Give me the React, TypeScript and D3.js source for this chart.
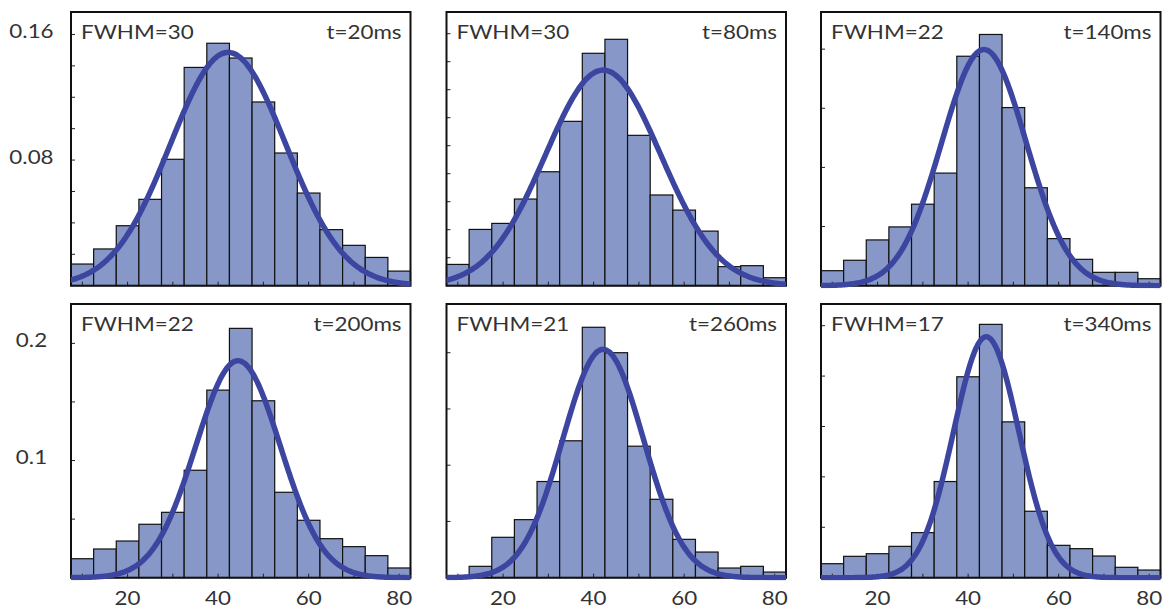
import React from "react";
import * as d3 from "d3";

// bin centres (bin width 5)
const binCenters = [10, 15, 20, 25, 30, 35, 40, 45, 50, 55, 60, 65, 70, 75, 80];

// relative frequencies per panel
const freq20 = [0.0138, 0.0234, 0.0382, 0.055, 0.0805, 0.139, 0.1544, 0.145, 0.117, 0.0845, 0.059, 0.0357, 0.0257, 0.018, 0.0093];
const freq80 = [0.0152, 0.0402, 0.0445, 0.0619, 0.0814, 0.1174, 0.166, 0.176, 0.1074, 0.0648, 0.054, 0.039, 0.0136, 0.0143, 0.0057];
const freq140 = [0.0127, 0.0215, 0.0387, 0.0497, 0.0689, 0.0952, 0.194, 0.2124, 0.1506, 0.0828, 0.0398, 0.0223, 0.0113, 0.0113, 0.0059];
const freq200 = [0.0162, 0.0245, 0.0313, 0.0456, 0.0558, 0.0917, 0.1601, 0.2128, 0.151, 0.0729, 0.049, 0.0333, 0.0265, 0.0188, 0.0083];
const freq260 = [0, 0.0101, 0.0359, 0.0516, 0.0855, 0.1217, 0.2226, 0.2, 0.1169, 0.0697, 0.0341, 0.0228, 0.0086, 0.0101, 0.005];
const freq340 = [0.0139, 0.0212, 0.0238, 0.0311, 0.0447, 0.0954, 0.1993, 0.2513, 0.1546, 0.0659, 0.0321, 0.0288, 0.0215, 0.0103, 0.0076];

// gaussian fit parameters: centre, FWHM, peak height
const fitMu = [42.2, 42.1, 43.5, 44.4, 42.1, 44.0];
const fitFwhm = [30, 30, 22, 22, 21, 17];
const fitPeak = [0.1486, 0.154, 0.1997, 0.1852, 0.203, 0.239];

const timeLabels = ["t=20ms", "t=80ms", "t=140ms", "t=200ms", "t=260ms", "t=340ms"];
const fwhmLabels = ["FWHM=30", "FWHM=30", "FWHM=22", "FWHM=22", "FWHM=21", "FWHM=17"];

// y axis per panel: max, tick step, labelled ticks
const yMaxes = [0.1743, 0.1955, 0.2314, 0.2336, 0.2433, 0.2715];
const yTickSteps = [0.02, 0.02, 0.05, 0.05, 0.05, 0.05];
const yLabelTicks: number[][] = [[0.08, 0.16], [], [], [0.1, 0.2], [], []];
const yLabelFormats = [".2f", "", "", ".1f", "", ""];

const xTicks = [10, 20, 30, 40, 50, 60, 70, 80];
const xLabelTicks = [20, 40, 60, 80];

const allFreq = [freq20, freq80, freq140, freq200, freq260, freq340];

const panelLefts = [71, 446.5, 821];
const panelTops = [12, 304];
const panelW = 339.5;
const panelH = 273.7;

const BAR_FILL = "#8798c8";
const CURVE = "#3c46a0";
const TEXT = "#333";
const FONT = "Lato, 'Open Sans', sans-serif";
const FS = 20;
const SX = 1.12;

function sx(ax: number) {
  return `translate(${ax},0) scale(${SX},1) translate(${-ax},0)`;
}

function Panel({ idx }: { idx: number }) {
  const row = idx < 3 ? 0 : 1;
  const col = idx % 3;
  const x0 = panelLefts[col];
  const y0 = panelTops[row];
  const x = d3.scaleLinear().domain([7.5, 82.5]).range([x0, x0 + panelW]);
  const y = d3.scaleLinear().domain([0, yMaxes[idx]]).range([y0 + panelH, y0]);
  const data = allFreq[idx];
  const sigma = fitFwhm[idx] / (2 * Math.sqrt(2 * Math.log(2)));
  const xs = d3.range(0, 301).map((i) => 7.5 + (75 * i) / 300);
  const line = d3
    .line<number>()
    .x((d) => x(d))
    .y((d) => y(fitPeak[idx] * Math.exp(-((d - fitMu[idx]) ** 2) / (2 * sigma * sigma))))
    .curve(d3.curveBasis);
  const yTicks = d3.range(yTickSteps[idx], yMaxes[idx] - 1e-9, yTickSteps[idx]);
  const fmt = yLabelFormats[idx] ? d3.format(yLabelFormats[idx]) : d3.format(".2f");
  const clipId = `clip${idx}`;
  const lx = x0 + 10;
  const rx = x0 + panelW - 9;
  return (
    <g>
      <defs>
        <clipPath id={clipId}>
          <rect x={x0} y={y0 - 5} width={panelW} height={panelH + 7.5} />
        </clipPath>
      </defs>
      <rect x={x0} y={y0} width={panelW} height={panelH} fill="#fff" />
      {data.map((v, i) =>
        v > 0 ? (
          <rect
            key={i}
            x={x(binCenters[i] - 2.5)}
            y={y(v)}
            width={x(binCenters[i] + 2.5) - x(binCenters[i] - 2.5)}
            height={y(0) - y(v)}
            fill={BAR_FILL}
            stroke="#111"
            strokeWidth={1.2}
          />
        ) : null
      )}
      {xTicks.map((t) => (
        <line key={"xt" + t} x1={x(t)} x2={x(t)} y1={y(0)} y2={y(0) - 4} stroke="#222" strokeWidth={1} />
      ))}
      {yTicks.map((t, i) => (
        <line key={"yt" + i} x1={x0} x2={x0 + 4} y1={y(t)} y2={y(t)} stroke="#222" strokeWidth={1} />
      ))}
      <rect x={x0} y={y0} width={panelW} height={panelH} fill="none" stroke="#111" strokeWidth={2} />
      <path d={line(xs) || ""} fill="none" stroke={CURVE} strokeWidth={5.5} clipPath={`url(#${clipId})`} strokeLinecap="round" />
      <text x={lx} y={y0 + 27.5} fontFamily={FONT} fontSize={FS} fill={TEXT} textAnchor="start" transform={sx(lx)}>
        {fwhmLabels[idx]}
      </text>
      <text x={rx} y={y0 + 27.5} fontFamily={FONT} fontSize={FS} fill={TEXT} textAnchor="end" transform={sx(rx)}>
        {timeLabels[idx]}
      </text>
      {yLabelTicks[idx].map((t) => (
        <text key={"yl" + t} x={31.5} y={y(t) + 3.5} fontFamily={FONT} fontSize={FS} fill={TEXT} textAnchor="middle" transform={sx(31.5)}>
          {fmt(t)}
        </text>
      ))}
      {row === 1 &&
        xLabelTicks.map((t) => (
          <text key={"xl" + t} x={x(t)} y={605} fontFamily={FONT} fontSize={FS} fill={TEXT} textAnchor="middle" transform={sx(x(t))}>
            {t}
          </text>
        ))}
    </g>
  );
}

export default function App() {
  return (
    <svg width={1165} height={611} style={{ position: "absolute", left: 0, top: 0, background: "#fff" }}>
      <rect width={1165} height={611} fill="#fff" />
      {[0, 1, 2, 3, 4, 5].map((i) => (
        <Panel key={i} idx={i} />
      ))}
    </svg>
  );
}
